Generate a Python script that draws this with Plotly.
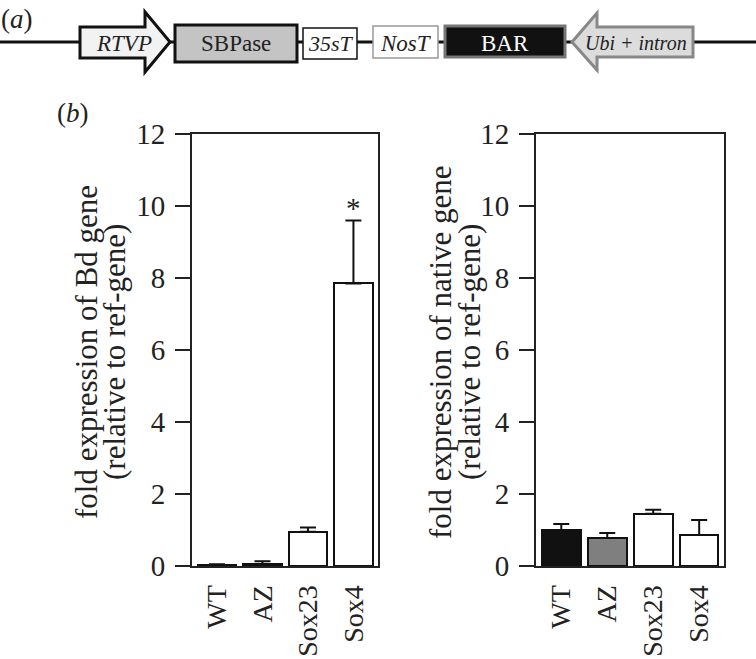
import plotly.graph_objects as go

# --- data ---------------------------------------------------------------
lines = ["WT", "AZ", "Sox23", "Sox4"]
bd_mean = [0.03, 0.05, 0.95, 7.85]
bd_err = [0.02, 0.08, 0.12, 1.75]
native_mean = [1.0, 0.78, 1.45, 0.86]
native_err = [0.17, 0.14, 0.11, 0.42]
bar_colors = ["#111111", "#7f7f7f", "white", "white"]
y_ticks = [0, 2, 4, 6, 8, 10, 12]

SERIF = "Liberation Serif"
W, H = 756, 659

fig = go.Figure()


def add_panel(means, errs, xa, ya):
    fig.add_trace(go.Bar(
        x=lines, y=means, xaxis=xa, yaxis=ya, width=0.84,
        marker=dict(color=bar_colors, line=dict(color="#111", width=2)),
        error_y=dict(type="data", symmetric=False, array=errs,
                     arrayminus=[0] * len(errs), color="#111",
                     thickness=2, width=8),
        showlegend=False, hoverinfo="x+y",
    ))


add_panel(bd_mean, bd_err, "x", "y")
add_panel(native_mean, native_err, "x2", "y2")

# invisible overlay axis in pixel units for the construct diagram
fig.add_trace(go.Scatter(x=[None], y=[None], xaxis="x3", yaxis="y3",
                         showlegend=False, hoverinfo="skip"))


def px_dom_x(a, b):
    return [a / W, b / W]


def px_dom_y(top, bottom):
    return [(H - bottom) / H, (H - top) / H]


yax = dict(range=[0, 12], tickvals=y_ticks, ticks="outside", ticklen=15,
           tickwidth=2, tickcolor="#222", showline=True, linewidth=2,
           linecolor="#222", mirror=True, showgrid=False, zeroline=False,
           tickfont=dict(family=SERIF, size=29, color="#222"),
           ticklabelstandoff=4, automargin=False)
xax = dict(range=[-0.55, 3.54], showline=True, linewidth=2, linecolor="#222",
           mirror=True, ticks="", tickangle=-90, showgrid=False,
           tickfont=dict(family=SERIF, size=28, color="#222"),
           ticklabelstandoff=6, automargin=False)

fig.update_layout(
    width=W, height=H,
    margin=dict(l=0, r=0, t=0, b=0),
    paper_bgcolor="white", plot_bgcolor="rgba(0,0,0,0)",
    bargap=0,
    xaxis=dict(xax, domain=px_dom_x(192, 378), anchor="y"),
    yaxis=dict(yax, domain=px_dom_y(134, 566), anchor="x"),
    xaxis2=dict(xax, domain=px_dom_x(536, 724), anchor="y2"),
    yaxis2=dict(yax, domain=px_dom_y(134, 566), anchor="x2"),
    xaxis3=dict(domain=[0, 1], range=[0, W], visible=False, anchor="y3"),
    yaxis3=dict(domain=[0, 1], range=[H, 0], visible=False, anchor="x3"),
)

# --- construct diagram (a) ---------------------------------------------
shapes = [
    dict(type="line", x0=0, x1=W, y0=42, y1=42,
         line=dict(color="#111", width=3)),
    dict(type="path", path="M80,27 L145,27 L145,12 L170,42 L145,72 L145,58 L80,58 Z",
         fillcolor="#f2f2f2", line=dict(color="#111", width=3)),
    dict(type="rect", x0=175, x1=297, y0=25, y1=62,
         fillcolor="#c4c4c4", line=dict(color="#111", width=3)),
    dict(type="rect", x0=303, x1=357, y0=28, y1=59,
         fillcolor="white", line=dict(color="#111", width=1.5)),
    dict(type="rect", x0=373, x1=438, y0=26, y1=58,
         fillcolor="white", line=dict(color="#999", width=1.5)),
    dict(type="rect", x0=445, x1=565, y0=26, y1=57,
         fillcolor="#111", line=dict(color="#777", width=3)),
    dict(type="path", path="M572,42 L597,13 L597,27 L693,27 L693,57 L597,57 L597,70 Z",
         fillcolor="#dcdcdc", line=dict(color="#888", width=3)),
]
for s in shapes:
    s.update(xref="x3", yref="y3", layer="above")
    fig.add_shape(**s)

construct_labels = [
    ("<i>RTVP</i>", 124, 23, "#222"),
    ("SBPase", 236, 23, "#222"),
    ("<i>35sT</i>", 331, 22, "#222"),
    ("<i>NosT</i>", 406, 23, "#222"),
    ("BAR", 505, 23, "white"),
    ("<i>Ubi + intron</i>", 636, 20, "#222"),
]
for txt, x, size, col in construct_labels:
    fig.add_annotation(text=txt, x=x, y=43, xref="x3", yref="y3",
                       showarrow=False, font=dict(family=SERIF, size=size, color=col))

# panel letters
fig.add_annotation(text="(<i>a</i>)", x=17, y=19, xref="x3", yref="y3",
                   showarrow=False, font=dict(family=SERIF, size=27, color="#222"))
fig.add_annotation(text="(<i>b</i>)", x=73, y=113, xref="x3", yref="y3",
                   showarrow=False, font=dict(family=SERIF, size=27, color="#222"))

# y-axis titles (two tight lines each)
titles = [
    ("fold expression of Bd gene", 86),
    ("(relative to ref-gene)", 114),
    ("fold expression of native gene", 440),
    ("(relative to ref-gene)", 469),
]
for txt, x in titles:
    fig.add_annotation(text=txt, x=x, y=352, xref="x3", yref="y3",
                       textangle=-90, showarrow=False,
                       font=dict(family=SERIF, size=31, color="#222"))

# significance mark
fig.add_annotation(text="*", x="Sox4", y=bd_mean[3] + bd_err[3], xref="x", yref="y",
                   yanchor="bottom", yshift=-6, showarrow=False,
                   font=dict(family=SERIF, size=29, color="#222"))

fig.write_html("out.html", config={"displayModeBar": False},
               post_script="document.body.style.margin='0px';")
